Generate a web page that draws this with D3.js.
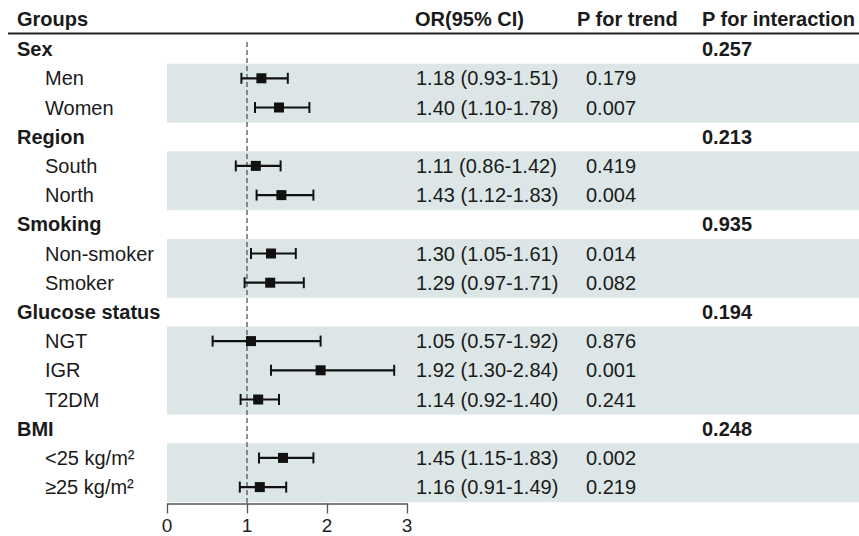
<!DOCTYPE html>
<html>
<head>
<meta charset="utf-8">
<script src="https://cdn.jsdelivr.net/npm/d3@7"></script>
<style>
  html, body { margin: 0; padding: 0; background: #fff; }
  svg { display: block; font-family: "Liberation Sans", Arial, Helvetica, sans-serif; }
</style>
</head>
<body>
<svg id="chart" width="859" height="536"></svg>
<script>
// ---- data ----
const headers = ["Groups", "OR(95% CI)", "P for trend", "P for interaction"];
const groupNames = ["Sex", "Region", "Smoking", "Glucose status", "BMI"];
const pInteraction = ["0.257", "0.213", "0.935", "0.194", "0.248"];
const subgroupNames = [
  ["Men", "Women"],
  ["South", "North"],
  ["Non-smoker", "Smoker"],
  ["NGT", "IGR", "T2DM"],
  ["<25 kg/m²", "≥25 kg/m²"]
];
const orValues = [[1.18, 1.40], [1.11, 1.43], [1.30, 1.29], [1.05, 1.92, 1.14], [1.45, 1.16]];
const lowerCI  = [[0.93, 1.10], [0.86, 1.12], [1.05, 0.97], [0.57, 1.30, 0.92], [1.15, 0.91]];
const upperCI  = [[1.51, 1.78], [1.42, 1.83], [1.61, 1.71], [1.92, 2.84, 1.40], [1.83, 1.49]];
const pTrend   = [["0.179", "0.007"], ["0.419", "0.004"], ["0.014", "0.082"], ["0.876", "0.001", "0.241"], ["0.002", "0.219"]];
const xTicks = [0, 1, 2, 3];
const refValue = 1;

// ---- build rows ----
const rows = [];
groupNames.forEach((g, gi) => {
  rows.push({type: "group", label: g, pint: pInteraction[gi]});
  subgroupNames[gi].forEach((s, si) => {
    rows.push({
      type: "sub", label: s,
      or: orValues[gi][si], lo: lowerCI[gi][si], hi: upperCI[gi][si],
      ptrend: pTrend[gi][si]
    });
  });
});

const svg = d3.select("#chart");
const W = 859;
const top0 = 34.5, rowH = 29.2;
const y = d3.scaleBand().domain(d3.range(rows.length)).range([top0, top0 + rows.length * rowH]).padding(0);
const x = d3.scaleLinear().domain([0, 3]).range([167, 407]);
const cy = i => y(i) + y.bandwidth() / 2;

const colX = {label: 17, sub: 45, or: 416, ptrend: 586, pint: 702};
const txt = "#1a1a1a";

// shaded bands for subgroup rows
svg.append("g").selectAll("rect")
  .data(rows.map((r, i) => ({r, i})).filter(d => d.r.type === "sub"))
  .join("rect")
  .attr("x", x(0))
  .attr("y", d => y(d.i))
  .attr("width", W - x(0))
  .attr("height", y.bandwidth() + 0.5)
  .attr("fill", "#dce6e6");

// header
const hdrX = [colX.label, 415, 577, 702];
svg.append("g").selectAll("text")
  .data(headers)
  .join("text")
  .attr("x", (d, i) => hdrX[i])
  .attr("y", 25.5)
  .attr("font-size", 20)
  .attr("font-weight", "bold")
  .attr("fill", txt)
  .text(d => d);

svg.append("line")
  .attr("x1", 8).attr("x2", W)
  .attr("y1", 33.5).attr("y2", 33.5)
  .attr("stroke", "#222").attr("stroke-width", 2);

// reference dashed line
svg.append("line")
  .attr("x1", x(refValue)).attr("x2", x(refValue))
  .attr("y1", 42).attr("y2", 503)
  .attr("stroke", "#555").attr("stroke-width", 1.3)
  .attr("stroke-dasharray", "5,3");

// row texts
const rg = svg.append("g").selectAll("g")
  .data(rows.map((r, i) => ({r, i})))
  .join("g");

rg.append("text")
  .attr("x", d => d.r.type === "group" ? colX.label : colX.sub)
  .attr("y", d => cy(d.i) + 7)
  .attr("font-size", 20)
  .attr("font-weight", d => d.r.type === "group" ? "bold" : "normal")
  .attr("fill", txt)
  .text(d => d.r.label);

rg.filter(d => d.r.type === "group").append("text")
  .attr("x", colX.pint)
  .attr("y", d => cy(d.i) + 7)
  .attr("font-size", 20)
  .attr("font-weight", "bold")
  .attr("fill", txt)
  .text(d => d.r.pint);

const subs = rg.filter(d => d.r.type === "sub");
subs.append("text")
  .attr("x", colX.or)
  .attr("y", d => cy(d.i) + 7)
  .attr("font-size", 20)
  .attr("fill", txt)
  .text(d => `${d.r.or.toFixed(2)} (${d.r.lo.toFixed(2)}-${d.r.hi.toFixed(2)})`);
subs.append("text")
  .attr("x", colX.ptrend)
  .attr("y", d => cy(d.i) + 7)
  .attr("font-size", 20)
  .attr("fill", txt)
  .text(d => d.r.ptrend);

// error bars
subs.append("line")
  .attr("x1", d => x(d.r.lo)).attr("x2", d => x(d.r.hi))
  .attr("y1", d => cy(d.i)).attr("y2", d => cy(d.i))
  .attr("stroke", "#111").attr("stroke-width", 2.2);
subs.append("line")
  .attr("x1", d => x(d.r.lo)).attr("x2", d => x(d.r.lo))
  .attr("y1", d => cy(d.i) - 5.5).attr("y2", d => cy(d.i) + 5.5)
  .attr("stroke", "#111").attr("stroke-width", 2);
subs.append("line")
  .attr("x1", d => x(d.r.hi)).attr("x2", d => x(d.r.hi))
  .attr("y1", d => cy(d.i) - 5.5).attr("y2", d => cy(d.i) + 5.5)
  .attr("stroke", "#111").attr("stroke-width", 2);
const sq = 10;
subs.append("rect")
  .attr("x", d => x(d.r.or) - sq / 2)
  .attr("y", d => cy(d.i) - sq / 2)
  .attr("width", sq).attr("height", sq)
  .attr("fill", "#111");

// x axis (line + ticks from d3 axis, labels drawn from the same scale)
const axis = svg.append("g")
  .attr("transform", "translate(0,503.5)")
  .call(d3.axisBottom(x).tickValues(xTicks).tickFormat("").tickSize(10).tickSizeOuter(0));
axis.select(".domain").attr("stroke", "#555").attr("stroke-width", 1.3);
axis.selectAll(".tick line").attr("stroke", "#555").attr("stroke-width", 1.3);
axis.selectAll(".tick text").remove();

svg.append("g").selectAll("text")
  .data(xTicks)
  .join("text")
  .attr("x", d => x(d))
  .attr("y", 532)
  .attr("text-anchor", "middle")
  .attr("font-size", 19)
  .attr("fill", "#222")
  .text(d => d3.format("d")(d));
</script>
</body>
</html>
